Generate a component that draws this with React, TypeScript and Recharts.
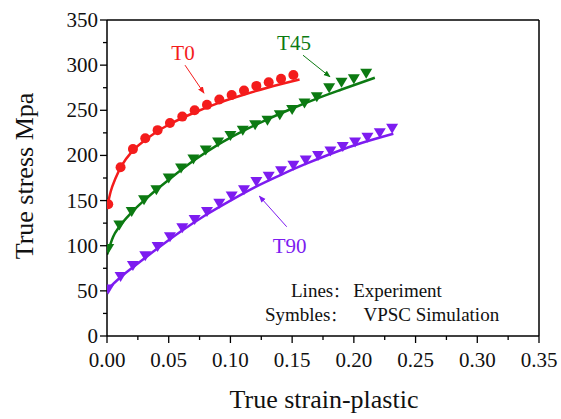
import React from "react";
import {
  ComposedChart,
  Line,
  Scatter,
  XAxis,
  YAxis,
  ReferenceLine,
} from "recharts";

// experiment curves (lines)
const t0LineStrain = [0, 0.003, 0.007, 0.012, 0.02, 0.03, 0.04, 0.05, 0.07, 0.09, 0.11, 0.13, 0.156];
const t0LineStress = [142, 160, 175, 189, 204, 216, 226, 234, 247, 258, 267, 275, 284];
const t45LineStrain = [0, 0.005, 0.01, 0.02, 0.03, 0.04, 0.05, 0.07, 0.09, 0.11, 0.13, 0.15, 0.17, 0.19, 0.217];
const t45LineStress = [90, 110, 121, 137, 150, 162, 173, 194, 212, 227, 240, 252, 263, 273, 286];
const t90LineStrain = [0, 0.01, 0.02, 0.04, 0.06, 0.08, 0.1, 0.12, 0.14, 0.16, 0.18, 0.2, 0.232];
const t90LineStress = [51, 64, 75, 96, 116, 134, 150, 165, 178, 190, 201, 211, 224];

// VPSC simulation (symbols)
const t0SimStrain = [0.001, 0.011, 0.021, 0.031, 0.041, 0.051, 0.061, 0.071, 0.081, 0.091, 0.101, 0.111, 0.121, 0.131, 0.141, 0.151];
const t0SimStress = [146, 187, 207, 219, 228, 236, 243, 250, 256, 262, 267, 272, 277, 281, 285, 289];
const t45SimStrain = [0.001, 0.01, 0.02, 0.03, 0.04, 0.05, 0.06, 0.07, 0.08, 0.09, 0.1, 0.11, 0.12, 0.13, 0.14, 0.15, 0.16, 0.17, 0.18, 0.19, 0.2, 0.21];
const t45SimStress = [97, 123, 138, 151, 162, 175, 186, 196, 206, 215, 222, 228, 234, 239, 245, 251, 258, 265, 275, 281, 285, 291];
const t90SimStrain = [0.001, 0.011, 0.021, 0.031, 0.041, 0.051, 0.061, 0.071, 0.081, 0.091, 0.101, 0.111, 0.121, 0.131, 0.141, 0.151, 0.161, 0.171, 0.181, 0.191, 0.201, 0.211, 0.221, 0.231];
const t90SimStress = [52, 66, 78, 89, 99, 110, 120, 129, 138, 147, 155, 162, 171, 177, 183, 189, 195, 200, 205, 210, 215, 220, 225, 230];

const xTicks = [0, 0.025, 0.05, 0.075, 0.1, 0.125, 0.15, 0.175, 0.2, 0.225, 0.25, 0.275, 0.3, 0.325, 0.35];
const yTicks = [0, 25, 50, 75, 100, 125, 150, 175, 200, 225, 250, 275, 300, 325, 350];

const FONT = "'Liberation Serif', 'Times New Roman', serif";
const CJK = "'Noto Sans CJK SC', sans-serif";
const RED = "#f41c1c";
const GREEN = "#0c7a12";
const PURPLE = "#7d1cf0";

const W = 561;
const H = 419;
const PLOT = { left: 107, right: 539, top: 20, bottom: 336 };

const toPts = (xs: number[], ys: number[]) => xs.map((x, i) => ({ x, y: ys[i] }));

// map data coords to pixels for the annotation overlay
const px = (x: number) => PLOT.left + (x / 0.35) * (PLOT.right - PLOT.left);
const py = (y: number) => PLOT.bottom - (y / 350) * (PLOT.bottom - PLOT.top);

const isMajor = (v: number, step: number) => Math.abs(v / step - Math.round(v / step)) < 1e-6;

const XTick = (props: any) => {
  const { x, y, payload } = props;
  const major = isMajor(payload.value, 0.05);
  return (
    <g>
      <line x1={x} y1={y} x2={x} y2={y + (major ? 7 : 4)} stroke="#000" strokeWidth={1.3} />
      {major && (
        <text x={x} y={y + 31} textAnchor="middle" fontSize={21} fontFamily={FONT} fill="#111">
          {payload.value.toFixed(2)}
        </text>
      )}
    </g>
  );
};

const YTick = (props: any) => {
  const { x, y, payload } = props;
  const major = isMajor(payload.value, 50);
  return (
    <g>
      <line x1={x} y1={y} x2={x - (major ? 7 : 4)} y2={y} stroke="#000" strokeWidth={1.3} />
      {major && (
        <text x={x - 9} y={y + 7} textAnchor="end" fontSize={21} fontFamily={FONT} fill="#111">
          {payload.value}
        </text>
      )}
    </g>
  );
};

const circle = (color: string) => (props: any) => (
  <circle cx={props.cx} cy={props.cy} r={5} fill={color} />
);

const triDown = (color: string) => (props: any) => {
  const { cx, cy } = props;
  return <path d={`M${cx - 6},${cy - 4.5} L${cx + 6},${cy - 4.5} L${cx},${cy + 5.5} Z`} fill={color} />;
};

const arrows = [
  { from: [0.0632, 300], to: [0.0786, 269], color: RED, id: "r" },
  { from: [0.1588, 311], to: [0.1807, 287], color: GREEN, id: "g" },
  { from: [0.1456, 121], to: [0.1234, 155], color: PURPLE, id: "p" },
];

const labels = [
  { text: "T0", at: [0.0616, 314], color: RED },
  { text: "T45", at: [0.1515, 324], color: GREEN },
  { text: "T90", at: [0.148, 100], color: PURPLE },
];

export default function App() {
  return (
    <div style={{ position: "absolute", left: 0, top: 0, width: W, height: H, background: "#fff" }}>
      <ComposedChart width={W} height={H} margin={{ top: PLOT.top, right: W - PLOT.right, left: 0, bottom: 0 }}>
        <XAxis
          type="number"
          dataKey="x"
          domain={[0, 0.35]}
          ticks={xTicks}
          interval={0}
          allowDataOverflow
          height={H - PLOT.bottom}
          tickSize={0}
          tickMargin={0}
          tickLine={false}
          tick={<XTick />}
          axisLine={{ stroke: "#000", strokeWidth: 1.5 }}
        />
        <YAxis
          type="number"
          dataKey="y"
          domain={[0, 350]}
          ticks={yTicks}
          interval={0}
          allowDataOverflow
          width={PLOT.left}
          tickSize={0}
          tickMargin={0}
          tickLine={false}
          tick={<YTick />}
          axisLine={{ stroke: "#000", strokeWidth: 1.5 }}
        />
        <ReferenceLine y={350} stroke="#000" strokeWidth={1.5} />
        <ReferenceLine x={0.35} stroke="#000" strokeWidth={1.5} />
        <Line data={toPts(t0LineStrain, t0LineStress)} dataKey="y" type="monotone" stroke={RED} strokeWidth={2.5} dot={false} isAnimationActive={false} />
        <Line data={toPts(t45LineStrain, t45LineStress)} dataKey="y" type="monotone" stroke={GREEN} strokeWidth={2.5} dot={false} isAnimationActive={false} />
        <Line data={toPts(t90LineStrain, t90LineStress)} dataKey="y" type="monotone" stroke={PURPLE} strokeWidth={2.5} dot={false} isAnimationActive={false} />
        <Scatter data={toPts(t0SimStrain, t0SimStress)} dataKey="y" shape={circle(RED)} isAnimationActive={false} />
        <Scatter data={toPts(t45SimStrain, t45SimStress)} dataKey="y" shape={triDown(GREEN)} isAnimationActive={false} />
        <Scatter data={toPts(t90SimStrain, t90SimStress)} dataKey="y" shape={triDown(PURPLE)} isAnimationActive={false} />
      </ComposedChart>
      <svg width={W} height={H} style={{ position: "absolute", left: 0, top: 0, pointerEvents: "none" }}>
        <defs>
          {arrows.map((a) => (
            <marker key={a.id} id={`ah-${a.id}`} viewBox="0 0 10 10" refX="9" refY="5" markerWidth="7" markerHeight="7" orient="auto">
              <path d="M0,1 L10,5 L0,9 Z" fill={a.color} />
            </marker>
          ))}
        </defs>
        {arrows.map((a) => (
          <line
            key={a.id}
            x1={px(a.from[0])}
            y1={py(a.from[1])}
            x2={px(a.to[0])}
            y2={py(a.to[1])}
            stroke={a.color}
            strokeWidth={1}
            markerEnd={`url(#ah-${a.id})`}
          />
        ))}
        {labels.map((l) => (
          <text key={l.text} x={px(l.at[0])} y={py(l.at[1]) + 7} textAnchor="middle" fontSize={21} fontFamily={FONT} fill={l.color}>
            {l.text}
          </text>
        ))}
        <text x={291} y={297} fontSize={19} fontFamily={FONT} fill="#111">
          <tspan>Lines</tspan>
          <tspan fontFamily={CJK} fontSize={15}>：</tspan>
          <tspan dx={5}>Experiment</tspan>
        </text>
        <text x={265} y={321} fontSize={19} fontFamily={FONT} fill="#111">
          <tspan>Symbles</tspan>
          <tspan fontFamily={CJK} fontSize={15}>：</tspan>
          <tspan dx={18}>VPSC Simulation</tspan>
        </text>
        <text x={324} y={408} textAnchor="middle" fontSize={26} fontFamily={FONT} fill="#111">
          True strain-plastic
        </text>
        <text x={0} y={0} transform="translate(33,176) rotate(-90)" textAnchor="middle" fontSize={26} fontFamily={FONT} fill="#111">
          True stress Mpa
        </text>
      </svg>
    </div>
  );
}
